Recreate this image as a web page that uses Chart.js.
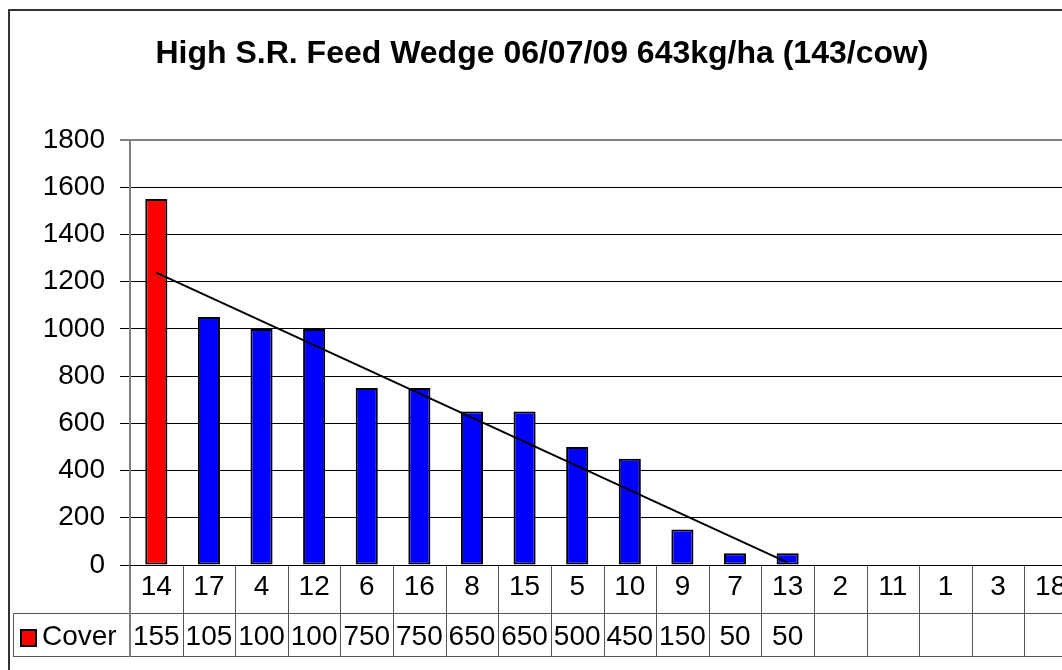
<!DOCTYPE html>
<html>
<head>
<meta charset="utf-8">
<script src="https://cdn.jsdelivr.net/npm/chart.js@4/dist/chart.umd.min.js"></script>
<style>
  html, body { margin: 0; padding: 0; background: #fff; overflow: hidden; width: 1062px; height: 670px; }
  canvas { display: block; }
</style>
</head>
<body>
<canvas id="c" width="1100" height="670" style="width:1100px;height:670px"></canvas>
<script>
const titleText = 'High S.R. Feed Wedge 06/07/09 643kg/ha (143/cow)';
const categories = ['14','17','4','12','6','16','8','15','5','10','9','7','13','2','11','1','3','18'];
const cover = [1550,1050,1000,1000,750,750,650,650,500,450,150,50,50,null,null,null,null,null];
const trend = [1238,null,null,null,null,null,null,null,null,null,null,null,10,null,null,null,null,null];
const seriesName = 'Cover';
const yTicks = [0,200,400,600,800,1000,1200,1400,1600,1800];

const FONT = '"Liberation Sans", Arial, sans-serif';
const FS = 28;

const tablePlugin = {
  id: 'tablePlugin',
  afterDraw(chart) {
    const ctx = chart.ctx;
    const xs = chart.scales.x;
    const ca = chart.chartArea;
    const n = categories.length;
    const cw = (ca.right - ca.left) / n;
    const row1Top = ca.bottom, row1Bot = 613, row2Bot = 656, tableLeft = 13;
    ctx.save();
    // outer border
    ctx.strokeStyle = '#333';
    ctx.lineWidth = 2;
    ctx.strokeRect(9, 10, 1200, 800);
    // plot top border
    ctx.strokeStyle = '#808080';
    ctx.lineWidth = 2;
    ctx.beginPath(); ctx.moveTo(ca.left, ca.top); ctx.lineTo(ca.right, ca.top); ctx.stroke();
    // title
    ctx.fillStyle = '#000';
    ctx.font = 'bold 32px ' + FONT;
    ctx.textAlign = 'center';
    ctx.textBaseline = 'alphabetic';
    ctx.fillText(titleText, 542, 63);
    // table lines
    ctx.strokeStyle = '#555';
    ctx.lineWidth = 1;
    ctx.beginPath();
    ctx.moveTo(tableLeft, row1Bot + 0.5); ctx.lineTo(ca.right + 30, row1Bot + 0.5);
    ctx.moveTo(tableLeft, row2Bot + 0.5); ctx.lineTo(ca.right + 30, row2Bot + 0.5);
    ctx.moveTo(tableLeft + 0.5, row1Bot); ctx.lineTo(tableLeft + 0.5, row2Bot);
    for (let i = 1; i <= n; i++) {
      const x = Math.round(xs.getPixelForValue(i - 1) + cw / 2) + 0.5;
      ctx.moveTo(x, row1Top); ctx.lineTo(x, row2Bot);
    }
    ctx.stroke();
    ctx.strokeStyle = '#808080';
    ctx.lineWidth = 2;
    ctx.beginPath(); ctx.moveTo(ca.left, row1Top); ctx.lineTo(ca.left, row2Bot + 1); ctx.stroke();
    // zero axis line
    ctx.strokeStyle = '#000';
    ctx.lineWidth = 1;
    ctx.beginPath(); ctx.moveTo(ca.left, ca.bottom + 0.5); ctx.lineTo(ca.right, ca.bottom + 0.5); ctx.stroke();
    // labels
    ctx.font = FS + 'px ' + FONT;
    ctx.fillStyle = '#000';
    ctx.textAlign = 'center';
    ctx.textBaseline = 'middle';
    for (let i = 0; i < n; i++) {
      const cx = xs.getPixelForValue(i);
      ctx.fillText(categories[i], cx, 587);
      if (cover[i] !== null && cover[i] !== undefined) {
        let s = String(cover[i]);
        while (s.length > 1 && ctx.measureText(s).width > cw - 2) s = s.slice(0, -1);
        ctx.fillText(s, cx, 637);
      }
    }
    // legend key
    ctx.fillStyle = '#ff0000';
    ctx.fillRect(21, 630, 15, 16);
    ctx.strokeStyle = '#000';
    ctx.lineWidth = 2;
    ctx.strokeRect(21, 630, 15, 16);
    ctx.fillStyle = '#000';
    ctx.textAlign = 'left';
    ctx.fillText(seriesName, 42, 637);
    ctx.restore();
  }
};

new Chart(document.getElementById('c'), {
  data: {
    labels: categories,
    datasets: [
      {
        type: 'line',
        label: 'Trend',
        data: trend,
        spanGaps: true,
        borderColor: '#000',
        borderWidth: 2,
        pointRadius: 0,
        fill: false,
        order: 0
      },
      {
        type: 'bar',
        label: seriesName,
        data: cover,
        backgroundColor: (c) => c.dataIndex === 0 ? '#ff0000' : '#0000ff',
        borderColor: '#000',
        borderWidth: 2,
        borderSkipped: false,
        barPercentage: 0.42,
        categoryPercentage: 1.0,
        order: 1
      }
    ]
  },
  options: {
    responsive: false,
    animation: false,
    layout: { padding: { left: 0, top: 140, right: 23, bottom: 105 } },
    plugins: { legend: { display: false }, title: { display: false }, tooltip: { enabled: false } },
    scales: {
      x: { display: false, offset: true },
      y: {
        min: 0, max: 1800,
        afterFit: (s) => { s.width = 130; },
        afterBuildTicks: (s) => { s.ticks = yTicks.map(v => ({ value: v })); },
        ticks: { font: { family: FONT, size: FS }, color: '#000', padding: 15, callback: (v) => String(v) },
        grid: {
          color: (c) => (c.tick && c.tick.value === 1800) ? '#808080' : '#000',
          lineWidth: (c) => (c.tick && c.tick.value === 1800) ? 2 : 1,
          tickLength: 10,
          tickColor: '#000',
          tickWidth: 1
        },
        border: { color: '#808080', width: 2 }
      }
    }
  },
  plugins: [tablePlugin]
});
</script>
</body>
</html>
